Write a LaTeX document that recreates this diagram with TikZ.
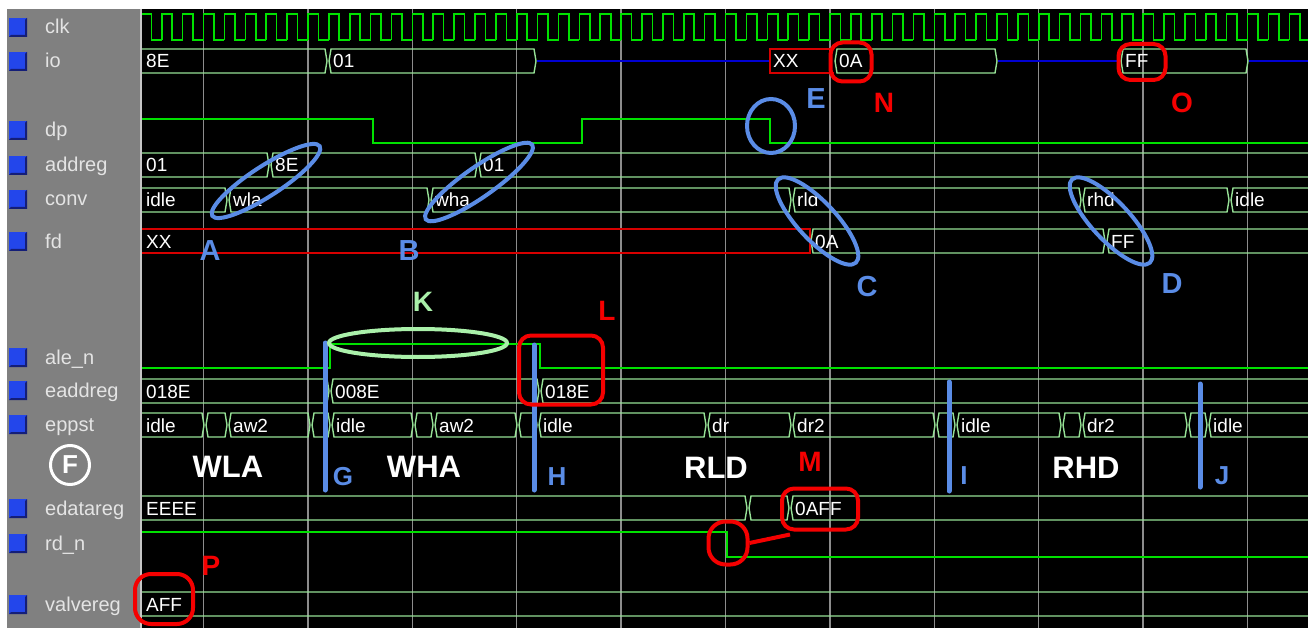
\documentclass[tikz,border=0pt]{standalone}
\usepackage{fontspec}
\setmainfont{Liberation Sans}
\definecolor{panel}{RGB}{128,128,128}
\definecolor{busg}{RGB}{150,225,150}
\definecolor{sigg}{RGB}{0,225,0}
\definecolor{gridc}{RGB}{140,140,140}
\definecolor{annb}{RGB}{90,140,230}
\definecolor{annr}{RGB}{245,0,0}
\definecolor{annk}{RGB}{170,240,170}
\definecolor{hiz}{RGB}{0,0,210}
\definecolor{xred}{RGB}{215,0,0}
\definecolor{labc}{RGB}{228,228,228}
\definecolor{iconb}{RGB}{35,70,235}
\definecolor{icond}{RGB}{20,30,120}
\tikzset{
  wtext/.style={anchor=base west, text=white, font=\fontsize{19}{19}\selectfont, inner sep=0pt},
  lab/.style={anchor=base west, text=labc, font=\fontsize{20}{20}\selectfont, inner sep=0pt},
  buslin/.style={busg, line width=1.4pt},
  siglin/.style={sigg, line width=1.6pt},
  big/.style={text=white, font=\bfseries\fontsize{31}{31}\selectfont, inner sep=0pt},
  bletter/.style={text=annb, font=\bfseries\fontsize{29}{29}\selectfont, inner sep=0pt},
  sletter/.style={text=annb, font=\bfseries\fontsize{26}{26}\selectfont, inner sep=0pt},
  rletter/.style={text=annr, font=\bfseries\fontsize{28}{28}\selectfont, inner sep=0pt},
  bellipse/.style={annb, line width=4pt},
  redbox/.style={draw=annr, line width=4pt, rounded corners=12pt, inner sep=0pt},
  marker/.style={annb, line width=5pt, line cap=round},
}
% bus segment with both ends closed: x1, x2, top, text
\newcommand\wseg[4]{%
  \draw[buslin] ({#1+1},{#3+12}) -- ({#1+3},{#3}) -- ({#2-3},{#3}) -- ({#2-1},{#3+12}) -- ({#2-3},{#3+24}) -- ({#1+3},{#3+24}) -- cycle;
  \node[wtext] at ({#1+5},{#3+19}) {#4};}
% bus segment open at the left edge: x2, top, text
\newcommand\wfirst[3]{%
  \draw[buslin] (136,{#2}) -- ({#1-3},{#2}) -- ({#1-1},{#2+12}) -- ({#1-3},{#2+24}) -- (136,{#2+24});
  \node[wtext] at (146,{#2+19}) {#3};}
% signal name with icon: y, text
\newcommand\signame[2]{%
  \fill[iconb] (9,{#1-9}) rectangle (27,{#1+10});
  \fill[icond] (27,{#1-9}) -- (27,{#1+10}) -- (9,{#1+10}) -- (11,{#1+8}) -- (25,{#1+8}) -- (25,{#1-7}) -- cycle;
  \node[lab] at (45,{#1+7}) {#2};}
\begin{document}
\begin{tikzpicture}[x=1pt,y=-1pt]
\useasboundingbox (0,0) rectangle (1308,628);
\fill[white] (0,0) rectangle (1308,628);
\fill[panel] (7,9) rectangle (140,628);
\fill[black] (142,9) rectangle (1308,628);
\draw[gray!45!white, line width=2pt] (141,9) -- (141,628);

% signal names
\signame{27}{clk}
\signame{61}{io}
\signame{130}{dp}
\signame{165}{addreg}
\signame{199}{conv}
\signame{241}{fd}
\signame{357}{ale\_n}
\signame{390}{eaddreg}
\signame{424}{eppst}
\signame{508}{edatareg}
\signame{543}{rd\_n}
\signame{604}{valvereg}

\begin{scope}
\clip (142,9) rectangle (1308,628);
% grid
\foreach \k in {0,...,10} {\draw[gridc, line width=1.4pt] ({203.5+104.4*\k},9) -- ({203.5+104.4*\k},628);}
% clk
\foreach \i in {0,...,56} {\draw[siglin] ({140.9+20.88*\i},40) -- ++(0,-26) -- ++(10.44,0) -- ++(0,26) -- ++(10.44,0);}
% io
\wfirst{328}{49}{8E}
\wseg{328}{537}{49}{01}
\draw[hiz, line width=1.6pt] (537,61) -- (770,61);
\draw[xred, line width=1.4pt] (834,49) -- (770,49) -- (770,73) -- (834,73);
\node[wtext] at (773,68) {XX};
\wseg{834}{998}{49}{0A}
\draw[hiz, line width=1.6pt] (998,61) -- (1120,61);
\wseg{1120}{1249}{49}{FF}
\draw[hiz, line width=1.6pt] (1249,61) -- (1308,61);
% dp
\draw[siglin] (140,119) -- (373,119) -- (373,143) -- (582,143) -- (582,119) -- (770,119) -- (770,143) -- (1310,143);
% addreg
\wfirst{270}{153}{01}
\wseg{270}{478}{153}{8E}
\wseg{478}{1314}{153}{01}
% conv
\wfirst{228}{188}{idle}
\wseg{228}{430}{188}{wla}
\wseg{430}{792}{188}{wha}
\wseg{792}{1082}{188}{rld}
\wseg{1082}{1230}{188}{rhd}
\wseg{1230}{1314}{188}{idle}
% fd
\draw[xred, line width=1.4pt] (136,229) -- (810,229) -- (810,253) -- (136,253);
\node[wtext] at (146,248) {XX};
\wseg{810}{1106}{229}{0A}
\wseg{1106}{1314}{229}{FF}
% ale_n
\draw[siglin] (140,368) -- (330,368) -- (330,344) -- (540,344) -- (540,368) -- (1310,368);
% eaddreg
\wfirst{330}{379}{018E}
\wseg{330}{540}{379}{008E}
\wseg{540}{1314}{379}{018E}
% eppst
\wfirst{205}{413}{idle}
\wseg{205}{228}{413}{}
\wseg{228}{311}{413}{aw2}
\wseg{311}{331}{413}{}
\wseg{331}{414}{413}{idle}
\wseg{414}{434}{413}{}
\wseg{434}{518}{413}{aw2}
\wseg{518}{538}{413}{}
\wseg{538}{707}{413}{idle}
\wseg{707}{792}{413}{dr}
\wseg{792}{936}{413}{dr2}
\wseg{936}{956}{413}{}
\wseg{956}{1062}{413}{idle}
\wseg{1062}{1082}{413}{}
\wseg{1082}{1188}{413}{dr2}
\wseg{1188}{1208}{413}{}
\wseg{1208}{1314}{413}{idle}
% edatareg
\wfirst{748}{496}{EEEE}
\wseg{748}{790}{496}{}
\wseg{790}{1314}{496}{0AFF}
% rd_n
\draw[siglin] (140,532) -- (727,532) -- (727,557) -- (1310,557);
% valvereg
\wfirst{1314}{592}{AFF}
\end{scope}

% state labels
\node[circle, draw=white, line width=3pt, minimum size=39pt, inner sep=0pt, text=white, font=\bfseries\fontsize{26}{26}\selectfont] (F) at (70,465) {F};
\node[big] (WLA) at (228,467) {WLA};
\node[big] (WHA) at (424,467) {WHA};
\node[big] (RLD) at (716,468) {RLD};
\node[big] (RHD) at (1086,468) {RHD};

% blue ellipses and labels
\draw[bellipse, rotate around={33:(266,181)}] (266,181) ellipse [x radius=64, y radius=15];
\draw[bellipse, rotate around={35:(479,182)}] (479,182) ellipse [x radius=65, y radius=15];
\draw[bellipse, rotate around={-47:(817,221)}] (817,221) ellipse [x radius=57, y radius=19];
\draw[bellipse, rotate around={-47:(1111,221)}] (1111,221) ellipse [x radius=57, y radius=19];
\draw[bellipse] (771,126) ellipse [x radius=24, y radius=27];
\node[bletter] (A) at (210,251) {A};
\node[bletter] (B) at (409,251) {B};
\node[bletter] (C) at (867,287) {C};
\node[bletter] (D) at (1172,284) {D};
\node[bletter] (E) at (816,99) {E};

% blue marker lines
\coordinate (G1) at (325,343); \coordinate (G2) at (325,490);
\coordinate (H1) at (534,345); \coordinate (H2) at (534,490);
\coordinate (I1) at (949,382); \coordinate (I2) at (949,491);
\coordinate (J1) at (1200,384); \coordinate (J2) at (1200,487);
\draw[marker] (G1) -- (G2);
\draw[marker] (H1) -- (H2);
\draw[marker] (I1) -- (I2);
\draw[marker] (J1) -- (J2);
\node[sletter] (G) at (343,477) {G};
\node[sletter] (H) at (557,477) {H};
\node[sletter] (I) at (964,476) {I};
\node[sletter] (J) at (1222,476) {J};

% K ellipse
\draw[annk, line width=4pt] (418,343) ellipse [x radius=89, y radius=14];
\node[text=annk, font=\bfseries\fontsize{28}{28}\selectfont, inner sep=0pt] (K) at (423,302) {K};

% red boxes
\node[redbox, minimum width=41pt, minimum height=39pt] (Nb) at (851,62) {};
\node[redbox, minimum width=47pt, minimum height=36pt] (Ob) at (1142,62) {};
\node[redbox, minimum width=84pt, minimum height=69pt] (Lb) at (561,370) {};
\node[redbox, minimum width=76pt, minimum height=41pt] (Mb) at (820,509) {};
\node[redbox, minimum width=39pt, minimum height=43pt, rounded corners=17pt] (Rc) at (728,543) {};
\node[redbox, minimum width=58pt, minimum height=50pt, rounded corners=16pt] (Pb) at (164,599) {};
\draw[annr, line width=4pt] (Rc.east) -- ([xshift=10pt,yshift=-3pt]Mb.south west);
\node[rletter] (N) at (884,103) {N};
\node[rletter] (O) at (1182,103) {O};
\node[rletter] (L) at (607,311) {L};
\node[rletter] (M) at (810,462) {M};
\node[rletter] (P) at (211,566) {P};
\end{tikzpicture}
\end{document}
